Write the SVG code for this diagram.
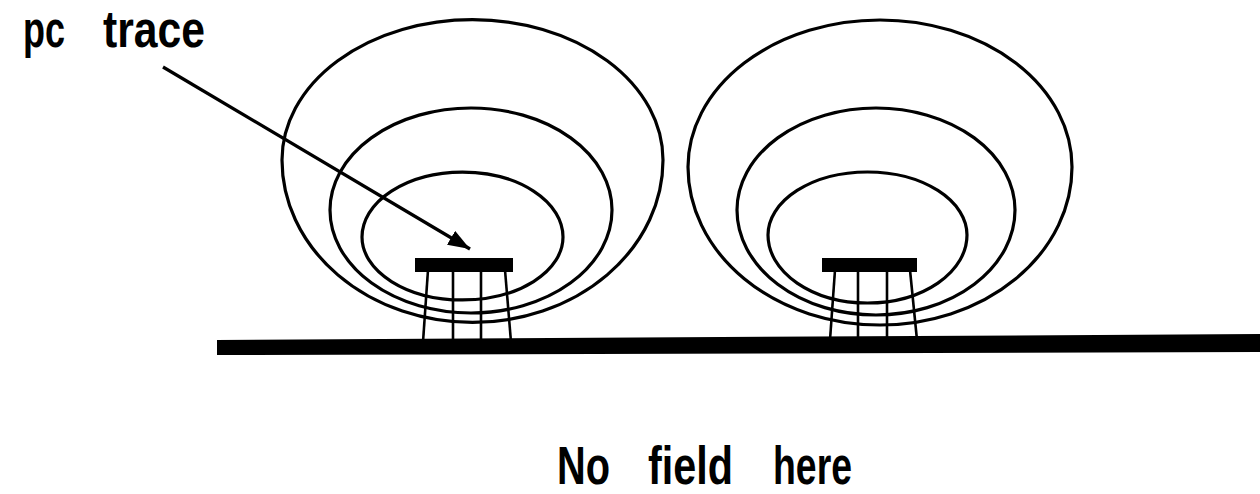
<svg xmlns="http://www.w3.org/2000/svg" width="1260" height="494" viewBox="0 0 1260 494">
<style>
.field{fill:none;stroke:#000;stroke-width:3.2}
.leg{stroke:#000;stroke-width:2.6;fill:none}
.trace{fill:#000}
.lbl{font-family:"Liberation Sans",Arial,sans-serif;font-weight:bold;fill:#000}
.conn{stroke:#000;stroke-width:3.2;fill:none}
</style>
<defs>
<marker id="ah" markerUnits="userSpaceOnUse" markerWidth="24" markerHeight="18" refX="22" refY="8" orient="auto">
<path d="M0,0 L22,8 L0,16 Z" fill="#000"/>
</marker>
</defs>
<rect width="1260" height="494" fill="#fff"/>
<g id="ground">
<polygon points="217,340 1260,334 1260,352 217,355" fill="#000"/>
</g>
<g id="left-trace">
<path class="field" d="M282,160 A190,140 0 0 1 663,160 A190,162 0 0 1 282,160 Z"/>
<path class="field" d="M330,210 A141,102 0 0 1 612,210 A141,103 0 0 1 330,210 Z"/>
<path class="field" d="M362,237 A100.5,65 0 0 1 563,237 A100.5,63 0 0 1 362,237 Z"/>
<line class="leg" x1="428" y1="270" x2="423" y2="342"/>
<line class="leg" x1="453" y1="270" x2="453" y2="342"/>
<line class="leg" x1="481" y1="270" x2="481" y2="342"/>
<line class="leg" x1="505" y1="270" x2="511" y2="342"/>
<rect class="trace" x="415" y="258" width="98" height="14"/>
</g>
<g id="right-trace">
<path class="field" d="M688,167 A192,147 0 0 1 1072,167 A192,158 0 0 1 688,167 Z"/>
<path class="field" d="M737,210 A139,102 0 0 1 1015,210 A139,105 0 0 1 737,210 Z"/>
<path class="field" d="M768,235 A99.5,63 0 0 1 967,235 A99.5,68 0 0 1 768,235 Z"/>
<line class="leg" x1="835" y1="270" x2="830" y2="340"/>
<line class="leg" x1="858" y1="270" x2="858" y2="340"/>
<line class="leg" x1="887" y1="270" x2="887" y2="340"/>
<line class="leg" x1="910" y1="270" x2="917" y2="340"/>
<rect class="trace" x="822" y="258" width="95" height="14"/>
</g>
<g id="connectors">
<line class="conn" x1="163" y1="67" x2="470" y2="249" marker-end="url(#ah)"/>
</g>
<g id="label-pc-trace">
<text class="lbl" x="23" y="47" font-size="52" textLength="42" lengthAdjust="spacingAndGlyphs">pc</text>
<text class="lbl" x="103" y="47" font-size="52" textLength="102" lengthAdjust="spacingAndGlyphs">trace</text>
</g>
<g id="label-no-field">
<text class="lbl" x="557" y="484" font-size="54" textLength="53" lengthAdjust="spacingAndGlyphs">No</text>
<text class="lbl" x="648" y="484" font-size="54" textLength="85" lengthAdjust="spacingAndGlyphs">field</text>
<text class="lbl" x="773" y="484" font-size="54" textLength="79" lengthAdjust="spacingAndGlyphs">here</text>
</g>
</svg>
